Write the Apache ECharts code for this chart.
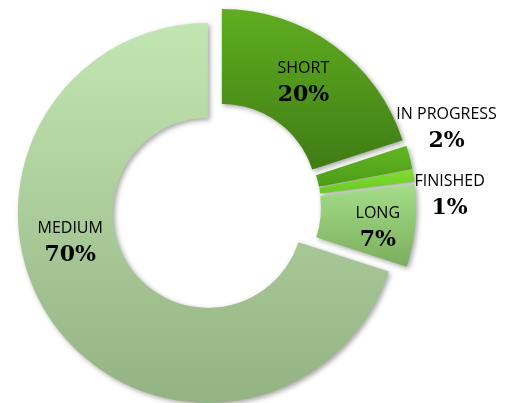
<!DOCTYPE html>
<html><head><meta charset="utf-8">
<script src="https://cdn.jsdelivr.net/npm/echarts@6/dist/echarts.min.js"></script>
<style>html,body{margin:0;padding:0;background:#fff}#c{width:508px;height:403px}</style>
</head><body><div id="c"></div>
<script>
const categories = ['SHORT', 'IN PROGRESS', 'FINISHED', 'LONG', 'MEDIUM'];
const values = [20, 2, 1, 7, 70];

const colorTop = ['#5fae1f', '#5fb81f', '#7ddc2c', '#a4de88', '#c2e6b2'];
const colorBottom = ['#3f7c15', '#4e9c18', '#6ccb24', '#7bae5d', '#93b382'];
const labelShift = [[-4, 2], [80, -39], [80, 14], [7, 7], [-20, -55]];

const chart = echarts.init(document.getElementById('c'), null, {renderer: 'canvas'});
const data = categories.map((name, i) => ({
  name: name,
  value: values[i],
  selected: true,
  itemStyle: {
    color: new echarts.graphic.LinearGradient(0, 0, 0, 1, [
      {offset: 0, color: colorTop[i]},
      {offset: 1, color: colorBottom[i]}
    ])
  }
}));

chart.setOption({
  animation: false,
  series: [{
    type: 'pie',
    center: [216, 207],
    radius: [95, 190],
    startAngle: 90,
    clockwise: true,
    selectedMode: 'multiple',
    selectedOffset: 10,
    avoidLabelOverlap: false,
    itemStyle: {
      borderWidth: 0,
      shadowBlur: 5,
      shadowColor: 'rgba(0,0,0,0.35)',
      shadowOffsetX: 2,
      shadowOffsetY: 2
    },
    select: {itemStyle: {borderWidth: 0, borderColor: 'transparent'}},
    emphasis: {disabled: true},
    labelLine: {show: false},
    label: {
      show: true,
      position: 'inside',
      formatter: '{n|{b}}\n{p|{c}%}',
      rich: {
        n: {fontFamily: 'Open Sans', fontSize: 16, color: '#000', lineHeight: 24, align: 'center'},
        p: {fontFamily: 'DejaVu Serif', fontWeight: 'bold', fontSize: 22, color: '#000', lineHeight: 30, align: 'center'}
      }
    },
    labelLayout: function (params) {
      const s = labelShift[params.dataIndex];
      return {dx: s[0], dy: s[1]};
    },
    data: data
  }]
});
</script>
</body></html>
